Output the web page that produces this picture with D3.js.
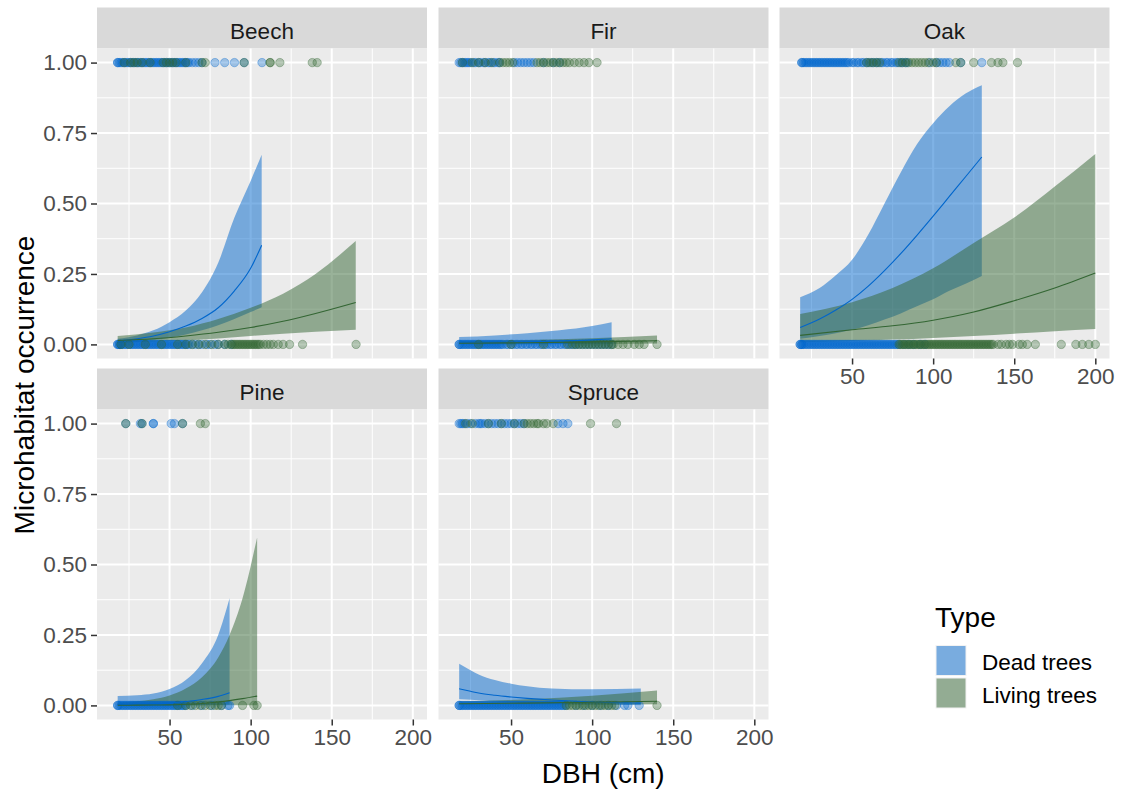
<!DOCTYPE html>
<html>
<head>
<meta charset="utf-8">
<script src="https://cdn.jsdelivr.net/npm/d3@7"></script>
<style>
  body { margin: 0; background: #fff; }
  svg { font-family: "Liberation Sans", Arial, sans-serif; }
</style>
</head>
<body>
<div id="chart"></div>
<script>
// facets and groups
var species = ["Beech", "Fir", "Oak", "Pine", "Spruce"];
var types = ["Dead trees", "Living trees"];
var xTicks = [50, 100, 150, 200];
var yTicks = [0, 0.25, 0.5, 0.75, 1];

// observed DBH of trees with microhabitat (1) and without (0)
var beechDead1 = [18,18,19,20,21,22,23,24,25,26,27,28,29,30,31,32,33,34,35,36,37,38,39,40,41,42,43,44,45,46,47,48,49,50,51,52,53,54,55,56,57,58,59,60,61,62,64,66,68,70,78,84,90,96,107];
var beechLive1 = [22,26,28,30,33,38,46,48,50,52,54,60,70,72,96,112,112,118,138,141];
var beechDead0 = [18,18,19,19,20,20,21,22,23,24,25,26,27,28,29,30,31,32,33,34,35,36,37,38,39,40,41,42,43,44,45,46,47,48,49,50,51,52,53,54,55,56,57,58,59,60,61,62,64,66,68,70,73,75,78,80,84,88];
var beechLive0 = [20,25,35,45,55,60,64,68,72,76,80,84,86,88,89,90,91,92,93,94,95,96,97,98,99,100,101,102,103,104,105,106,108,110,112,114,117,120,124,132,165];

var firDead1 = [18,19,20,21,22,23,24,25,27,28,30,31,33,34,36,37,39,40,42,43,52,54,56,58,60,62,64,70,76,80];
var firLive1 = [20,26,30,34,38,43,45,47,49,51,66,68,70,72,74,76,78,80,82,84,86,89,92,95,98,103];
var firDead0 = [18,18,19,20,21,22,23,24,25,26,27,28,29,30,31,32,33,34,35,36,37,38,39,40,41,42,43,44,45,47,48,50,51,53,54,56,57,59,60,62,63,65,66,68,69,71,72,74,75,77,78,80,81,83,84,86,87,89,90,92,94,96,98,100,102,104,106,108,110,112];
var firLive0 = [30,50,70,85,88,90,92,94,96,98,100,102,104,106,108,110,112,113,116,119,122,126,129,132,140];

var oakDead1 = [19,19,20,21,22,23,24,25,26,27,28,29,30,31,32,33,34,35,36,37,38,39,40,41,42,43,44,45,46,47,48,50,51,53,54,56,57,59,60,62,63,65,66,68,69,71,72,74,75,77,78,80,81,83,84,98,102,104,106,108,110,117,130];
var oakLive1 = [59,61,63,65,67,79,81,83,85,87,89,91,93,95,97,100,102,114,117,125,136,140,143,152];
var oakDead0 = [18,18,19,19,20,21,22,23,24,25,26,27,28,29,30,31,32,33,34,35,36,37,38,39,40,41,42,43,44,45,46,47,48,49,50,51,52,53,54,55,56,57,58,59,60,61,62,63,64,65,66,67,68,69,70,71,72,73,74,75,76,77,78,79,82,85,88,92,95];
var oakLive0 = [79,80,81,82,83,84,85,86,87,88,89,90,91,92,93,94,95,96,97,98,99,100,101,102,103,104,105,106,107,108,109,110,111,112,113,114,115,116,117,118,119,120,121,122,123,124,125,126,127,128,129,130,131,132,133,134,135,136,137,140,142,145,147,149,153,155,158,163,179,188,192,196,200];

var pineDead1 = [23,32,33,40,40,51,53,58];
var pineLive1 = [23,33,58,69,72];
var pineDead0 = [18,18,19,20,21,22,23,24,25,26,27,28,29,30,31,32,33,34,35,36,37,38,39,40,41,42,43,44,45,46,47,48,49,50,51,52,53,54,55,56,57,58,59,60,64,70,76,82,86,87];
var pineLive0 = [55,60,63,66,69,72,75,78,80,82,95,102,104];

var spruceDead1 = [18,19,20,21,23,25,28,30,31,32,34,36,38,40,42,44,46,48,50,52,54,56,58,79,82,85];
var spruceLive1 = [22,26,36,44,52,58,60,62,64,66,67,70,72,76,99,115];
var spruceDead0 = [18,18,19,20,21,22,23,24,25,26,27,28,29,30,31,32,33,34,35,36,37,38,39,40,41,42,43,44,45,46,47,48,49,50,51,52,53,54,55,56,57,58,59,60,61,62,63,64,65,66,67,68,69,70,71,72,73,74,75,76,77,78,79,80,81,82,83,84,90,95,100,105,110,115,120,122,129];
var spruceLive0 = [84,86,88,90,92,94,96,98,100,102,104,106,108,110,112,114,140];

// fitted curves: [DBH, lower, fit, upper]
var beechDeadFit = [[18,.006,.012,.02],[30,.01,.02,.032],[40,.016,.03,.05],[50,.024,.045,.079],[60,.035,.065,.12],[70,.05,.092,.185],[80,.068,.13,.29],[90,.09,.19,.45],[100,.115,.27,.58],[106.8,.132,.352,.673]];
var beechLiveFit = [[18,.006,.014,.03],[40,.009,.02,.042],[60,.014,.03,.06],[80,.021,.043,.09],[100,.03,.06,.13],[120,.038,.082,.18],[140,.045,.11,.25],[164.8,.052,.149,.367]];
var firDeadFit = [[18,.001,.005,.026],[40,.001,.007,.032],[60,.001,.009,.04],[80,.001,.012,.05],[100,.002,.016,.065],[112,.002,.02,.079]];
var firLiveFit = [[18,.001,.004,.012],[60,.001,.006,.016],[100,.002,.009,.022],[140,.003,.013,.032]];
var oakDeadFit = [[18,.02,.06,.167],[30,.03,.09,.2],[40,.04,.122,.245],[50,.052,.16,.3],[60,.068,.207,.39],[70,.088,.262,.5],[80,.11,.322,.61],[90,.135,.387,.71],[100,.16,.455,.785],[110,.19,.525,.845],[120,.215,.595,.89],[130,.243,.665,.92]];
var oakLiveFit = [[18,.008,.032,.108],[50,.012,.052,.15],[75,.017,.066,.2],[100,.023,.086,.27],[125,.03,.115,.36],[150,.038,.155,.45],[175,.047,.2,.56],[200,.055,.253,.676]];
var pineDeadFit = [[18,.0003,.003,.033],[30,.0004,.004,.036],[40,.0006,.006,.042],[50,.0008,.009,.058],[60,.001,.014,.09],[70,.0015,.021,.15],[80,.002,.032,.25],[87,.003,.045,.38]];
var pineLiveFit = [[18,0,.0005,.01],[30,0,.001,.015],[40,0,.0015,.022],[50,0,.002,.035],[60,0,.004,.06],[70,.0001,.007,.1],[80,.0002,.012,.17],[87,.0003,.017,.25],[95,.0004,.024,.38],[104,.0005,.033,.596]];
var spruceDeadFit = [[18,.022,.059,.148],[25,.02,.05,.125],[30,.018,.044,.11],[40,.014,.036,.09],[50,.011,.03,.077],[60,.008,.025,.068],[75,.005,.019,.06],[100,.003,.012,.057],[130,.001,.008,.06]];
var spruceLiveFit = [[18,.002,.006,.014],[60,.003,.008,.022],[100,.003,.011,.034],[140,.004,.015,.053]];

var points = {
  Beech: [[beechDead1, beechDead0], [beechLive1, beechLive0]],
  Fir: [[firDead1, firDead0], [firLive1, firLive0]],
  Oak: [[oakDead1, oakDead0], [oakLive1, oakLive0]],
  Pine: [[pineDead1, pineDead0], [pineLive1, pineLive0]],
  Spruce: [[spruceDead1, spruceDead0], [spruceLive1, spruceLive0]]
};
var curves = {
  Beech: [beechDeadFit, beechLiveFit],
  Fir: [firDeadFit, firLiveFit],
  Oak: [oakDeadFit, oakLiveFit],
  Pine: [pineDeadFit, pineLiveFit],
  Spruce: [spruceDeadFit, spruceLiveFit]
};

var colors = ["#0066CC", "#336633"];

var width = 1121, height = 794;
var colLeft = [97, 438.5, 779.5],
    stripTop = [7.5, 368.5],
    panelW = 330, panelH = 310, stripH = 41;

var svg = d3.select("#chart").append("svg")
    .attr("width", width)
    .attr("height", height);

// shared scales (x limits 14.5..199.5 expanded by 5%)
var x = d3.scaleLinear().domain([14.5 - 9.25, 199.5 + 9.25]).range([0, panelW]);
var y = d3.scaleLinear().domain([-0.05, 1.05]).range([panelH, 0]);

var area = d3.area()
    .curve(d3.curveMonotoneX)
    .x(function (d) { return x(d[0]); })
    .y0(function (d) { return y(d[1]); })
    .y1(function (d) { return y(d[3]); });
var line = d3.line()
    .curve(d3.curveMonotoneX)
    .x(function (d) { return x(d[0]); })
    .y(function (d) { return y(d[2]); });

species.forEach(function (sp, i) {
    var col = i % 3, row = Math.floor(i / 3);
    var top = stripTop[row] + stripH;

    // strip
    svg.append("rect")
        .attr("x", colLeft[col]).attr("y", stripTop[row])
        .attr("width", panelW).attr("height", stripH)
        .attr("fill", "#D9D9D9");
    svg.append("text")
        .attr("x", colLeft[col] + panelW / 2)
        .attr("y", stripTop[row] + 31)
        .attr("text-anchor", "middle")
        .attr("font-size", "22.5px")
        .attr("fill", "#1A1A1A")
        .text(sp);

    var g = svg.append("g")
        .attr("transform", "translate(" + colLeft[col] + "," + top + ")");

    g.append("rect").attr("width", panelW).attr("height", panelH).attr("fill", "#EBEBEB");

    // minor grid
    [25, 75, 125, 175].forEach(function (v) {
        g.append("line").attr("x1", x(v)).attr("x2", x(v)).attr("y1", 0).attr("y2", panelH)
            .attr("stroke", "#fff").attr("stroke-width", 1);
    });
    [0.125, 0.375, 0.625, 0.875].forEach(function (v) {
        g.append("line").attr("y1", y(v)).attr("y2", y(v)).attr("x1", 0).attr("x2", panelW)
            .attr("stroke", "#fff").attr("stroke-width", 1);
    });
    // major grid
    xTicks.forEach(function (v) {
        g.append("line").attr("x1", x(v)).attr("x2", x(v)).attr("y1", 0).attr("y2", panelH)
            .attr("stroke", "#fff").attr("stroke-width", 2);
    });
    yTicks.forEach(function (v) {
        g.append("line").attr("y1", y(v)).attr("y2", y(v)).attr("x1", 0).attr("x2", panelW)
            .attr("stroke", "#fff").attr("stroke-width", 2);
    });

    // ribbons
    curves[sp].forEach(function (c, t) {
        g.append("path").attr("d", area(c))
            .attr("fill", colors[t]).attr("fill-opacity", 0.5);
    });

    // observed points
    points[sp].forEach(function (pair, t) {
        [1, 0].forEach(function (occ, k) {
            g.selectAll(null).data(pair[k]).enter().append("circle")
                .attr("cx", function (d) { return x(d); })
                .attr("cy", y(occ))
                .attr("r", 4.2)
                .attr("fill", colors[t]).attr("fill-opacity", 0.34)
                .attr("stroke", colors[t]).attr("stroke-opacity", 0.36)
                .attr("stroke-width", 1);
        });
    });

    // fitted lines
    curves[sp].forEach(function (c, t) {
        g.append("path").attr("d", line(c))
            .attr("fill", "none").attr("stroke", colors[t]).attr("stroke-width", 1.1);
    });

    // axes
    if (col === 0) {
        var ya = g.append("g")
            .call(d3.axisLeft(y).tickValues(yTicks).tickFormat(d3.format(".2f")).tickSize(6).tickPadding(4));
        styleAxis(ya);
    }
    if (row === 1 || col === 2) {
        var xa = g.append("g")
            .attr("transform", "translate(0," + panelH + ")")
            .call(d3.axisBottom(x).tickValues(xTicks).tickSize(6).tickPadding(4));
        styleAxis(xa);
    }
});

function styleAxis(a) {
    a.select(".domain").remove();
    a.selectAll(".tick line").attr("stroke", "#333333").attr("stroke-width", 1.5);
    a.selectAll(".tick text").attr("fill", "#4D4D4D")
        .attr("font-size", "22.5px")
        .attr("font-family", "Liberation Sans, Arial, sans-serif");
}

// axis titles
svg.append("text")
    .attr("x", (colLeft[0] + colLeft[2] + panelW) / 2)
    .attr("y", 783)
    .attr("text-anchor", "middle")
    .attr("font-size", "28px")
    .attr("fill", "#000")
    .text("DBH (cm)");
svg.append("text")
    .attr("transform", "translate(34," + 385 + ") rotate(-90)")
    .attr("text-anchor", "middle")
    .attr("font-size", "28px")
    .attr("fill", "#000")
    .text("Microhabitat occurrence");

// legend
var legend = svg.append("g").attr("transform", "translate(935,0)");
legend.append("text")
    .attr("x", 0).attr("y", 627)
    .attr("font-size", "28px")
    .attr("fill", "#000")
    .text("Type");
types.forEach(function (t, i) {
    var ky = 645 + i * 32.5;
    legend.append("rect")
        .attr("x", 0.5).attr("y", ky).attr("width", 31).attr("height", 31)
        .attr("fill", "#F2F2F2");
    legend.append("rect")
        .attr("x", 1.5).attr("y", ky + 1).attr("width", 29).attr("height", 29)
        .attr("fill", colors[i]).attr("fill-opacity", 0.5);
    legend.append("text")
        .attr("x", 47).attr("y", ky + 17.5)
        .attr("dy", "0.35em")
        .attr("font-size", "22.5px")
        .attr("fill", "#000")
        .text(t);
});
</script>
</body>
</html>
